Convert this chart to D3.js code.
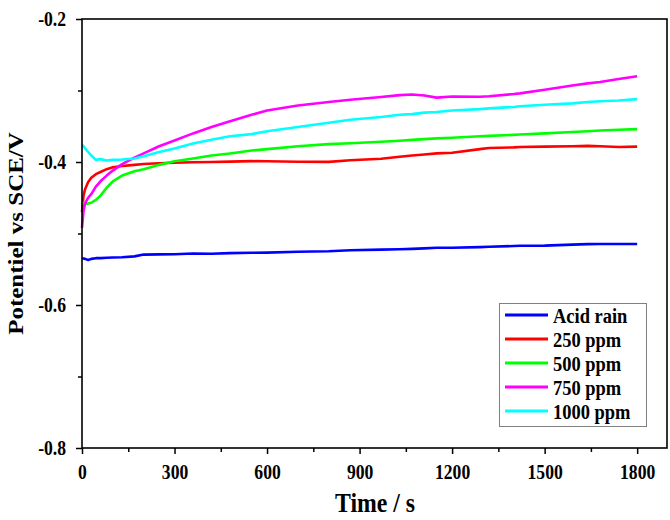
<!DOCTYPE html>
<html>
<head>
<meta charset="utf-8">
<script src="https://cdn.jsdelivr.net/npm/d3@7"></script>
<style>
  body { margin: 0; background: #fff; }
  text { font-family: 'Liberation Serif', 'Times New Roman', serif; font-weight: bold; }
</style>
</head>
<body>
<svg id="chart"></svg>
<script>
// time in seconds, potential in V vs SCE
const time = [0, 5, 10, 20, 30, 45, 60, 80, 100, 130, 170, 200, 250, 300, 360, 420, 480, 550, 600,
  700, 800, 870, 970, 1030, 1070, 1110, 1150, 1200, 1290, 1320, 1400, 1420, 1500, 1590, 1640, 1680, 1740, 1800];

const acidRain = [-0.5347, -0.535, -0.5355, -0.537, -0.5355, -0.5345, -0.5345, -0.534, -0.5335, -0.5333, -0.532, -0.5295,
  -0.5292, -0.529, -0.528, -0.5283, -0.5275, -0.527, -0.5268, -0.5255, -0.5248, -0.5235, -0.5225, -0.522, -0.5215,
  -0.5208, -0.52, -0.52, -0.519, -0.5185, -0.5175, -0.5172, -0.517, -0.5155, -0.5148, -0.5146, -0.5147, -0.5147];

const ppm250 = [-0.47, -0.447, -0.438, -0.428, -0.422, -0.417, -0.414, -0.41, -0.4075, -0.4055, -0.404, -0.4028,
  -0.4018, -0.401, -0.4004, -0.4, -0.3995, -0.3988, -0.399, -0.3996, -0.3998, -0.3975, -0.3955, -0.3926, -0.391,
  -0.3895, -0.388, -0.387, -0.382, -0.3805, -0.3795, -0.379, -0.3785, -0.378, -0.3775, -0.378, -0.379, -0.3785];

const ppm500 = [-0.456, -0.458, -0.459, -0.458, -0.457, -0.453, -0.447, -0.436, -0.427, -0.419, -0.413, -0.41,
  -0.404, -0.399, -0.395, -0.391, -0.388, -0.384, -0.382, -0.378, -0.375, -0.3738, -0.3716, -0.3702, -0.369,
  -0.368, -0.367, -0.366, -0.364, -0.3635, -0.362, -0.3615, -0.36, -0.358, -0.357, -0.356, -0.355, -0.354];

const ppm750 = [-0.492, -0.468, -0.458, -0.45, -0.445, -0.4345, -0.427, -0.419, -0.412, -0.403, -0.394, -0.388,
  -0.378, -0.37, -0.36, -0.351, -0.343, -0.334, -0.328, -0.321, -0.316, -0.313, -0.309, -0.3065, -0.3055,
  -0.307, -0.31, -0.3085, -0.3087, -0.308, -0.305, -0.304, -0.299, -0.293, -0.29, -0.288, -0.284, -0.28];

const ppm1000 = [-0.376, -0.378, -0.381, -0.386, -0.391, -0.397, -0.396, -0.398, -0.397, -0.3965, -0.395, -0.392,
  -0.386, -0.381, -0.374, -0.369, -0.364, -0.361, -0.357, -0.351, -0.345, -0.341, -0.337, -0.334, -0.333,
  -0.331, -0.33, -0.328, -0.326, -0.325, -0.323, -0.322, -0.32, -0.318, -0.316, -0.315, -0.314, -0.312];

const seriesNames = ['Acid rain', '250 ppm', '500 ppm', '750 ppm', '1000 ppm'];
const seriesValues = [acidRain, ppm250, ppm500, ppm750, ppm1000];

const xTicks = [0, 300, 600, 900, 1200, 1500, 1800];
const yTicks = [-0.8, -0.6, -0.4, -0.2];

const colors = ['#0000ff', '#ff0000', '#00ff00', '#ff00ff', '#00ffff'];

const [width, height] = [670, 520];
const margin = { top: 19, right: 2, bottom: 72, left: 82 };
const sx = 0.88; // the original text looks horizontally condensed

let svg = d3.select('#chart')
  .attr('width', width)
  .attr('height', height)

let x = d3.scaleLinear().domain([0, 1900]).range([margin.left, width - margin.right])
let y = d3.scaleLinear().domain([-0.8, -0.2]).range([height - margin.bottom, margin.top])

// minor ticks
svg.append('g')
  .attr('transform', 'translate(0,' + (height - margin.bottom) + ')')
  .call(d3.axisBottom(x).tickValues(d3.range(150, 1900, 300)).tickSize(4).tickFormat(''))
  .call(g => g.select('.domain').remove())
svg.append('g')
  .attr('transform', 'translate(' + margin.left + ',0)')
  .call(d3.axisLeft(y).tickValues([-0.7, -0.5, -0.3]).tickSize(4).tickFormat(''))
  .call(g => g.select('.domain').remove())

// major ticks
let xAxis = svg.append('g')
  .attr('transform', 'translate(0,' + (height - margin.bottom) + ')')
  .call(d3.axisBottom(x).tickValues(xTicks).tickSize(6).tickPadding(11).tickSizeOuter(0)
    .tickFormat(d => String(d)))
let yAxis = svg.append('g')
  .attr('transform', 'translate(' + margin.left + ',0)')
  .call(d3.axisLeft(y).tickValues(yTicks).tickSize(6).tickPadding(10).tickSizeOuter(0)
    .tickFormat(d => d.toFixed(1)))

svg.selectAll('.tick line').attr('stroke-width', 1.5)
svg.selectAll('.domain').remove()

xAxis.selectAll('text')
  .attr('font-size', 20)
  .attr('transform', 'scale(' + sx + ',1)')
  .attr('x', 0)
yAxis.selectAll('text')
  .attr('font-size', 20)
  .attr('x', -16 / sx)
  .attr('transform', 'scale(' + sx + ',1)')
svg.selectAll('.tick text').attr('fill', '#000')

// series
let line = d3.line()
  .x((d, i) => x(time[i]))
  .y(d => y(d))

svg.append('g')
  .selectAll('path')
  .data(seriesValues)
  .enter()
  .append('path')
  .attr('d', d => line(d))
  .attr('fill', 'none')
  .attr('stroke', (d, i) => colors[i])
  .attr('stroke-width', 2.6)
  .attr('stroke-linejoin', 'round')

// frame
svg.append('rect')
  .attr('x', margin.left)
  .attr('y', margin.top)
  .attr('width', width - margin.left - margin.right - 1)
  .attr('height', height - margin.top - margin.bottom)
  .attr('fill', 'none')
  .attr('stroke', '#000')
  .attr('stroke-width', 1.6)

// legend
let legend = svg.append('g')
legend.append('rect')
  .attr('x', 499.5)
  .attr('y', 303.5)
  .attr('width', 147)
  .attr('height', 123)
  .attr('fill', '#fff')
  .attr('stroke', '#808080')
  .attr('stroke-width', 1)

let item = legend.selectAll('g.item')
  .data(seriesNames)
  .enter()
  .append('g')
  .attr('class', 'item')
  .attr('transform', (d, i) => 'translate(505,' + (315 + i * 24) + ')')
item.append('line')
  .attr('x1', 0)
  .attr('x2', 43)
  .attr('stroke', (d, i) => colors[i])
  .attr('stroke-width', 3)
item.append('text')
  .text(d => d)
  .attr('font-size', 21)
  .attr('dominant-baseline', 'central')
  .attr('transform', 'translate(48,1) scale(' + sx + ',1)')

// axis titles
svg.append('text')
  .text('Time / s')
  .attr('font-size', 27)
  .attr('text-anchor', 'middle')
  .attr('transform', 'translate(' + ((margin.left + width - margin.right) / 2) + ',512) scale(' + sx + ',1)')

svg.append('text')
  .text('Potentiel vs SCE/V')
  .attr('font-size', 25)
  .attr('text-anchor', 'middle')
  .attr('transform', 'translate(23,' + ((margin.top + height - margin.bottom) / 2) + ') scale(' + sx + ',1) rotate(-90)')
</script>
</body>
</html>
